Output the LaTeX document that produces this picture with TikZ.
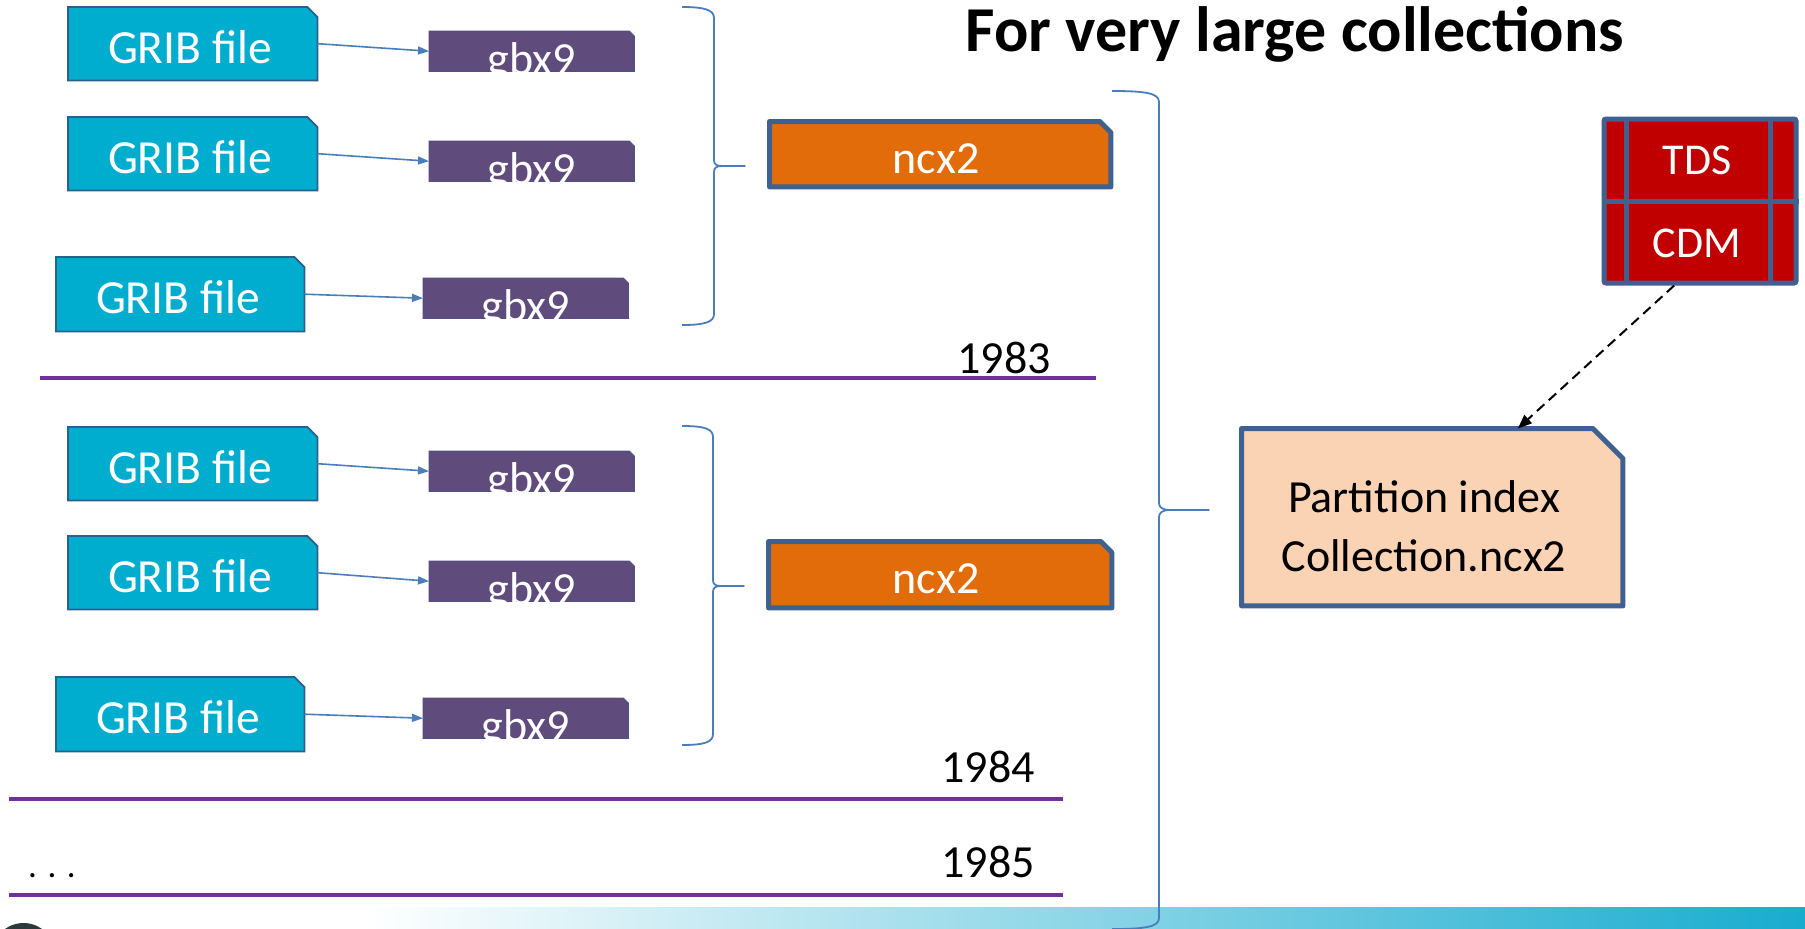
\documentclass[tikz,border=0pt]{standalone}
\usepackage{fontspec}
\setmainfont{Carlito}
\usetikzlibrary{arrows.meta,calc}
\definecolor{gribc}{HTML}{00ADCF}
\definecolor{gribb}{HTML}{2E5E8C}
\definecolor{gbxc}{HTML}{5F4B7C}
\definecolor{gbxb}{HTML}{4C5284}
\definecolor{ncxc}{HTML}{E36C0A}
\definecolor{boxb}{HTML}{3E6190}
\definecolor{partc}{HTML}{FAD3B4}
\definecolor{tdsc}{HTML}{C00000}
\definecolor{linec}{HTML}{7030A0}
\definecolor{bracec}{HTML}{4A7EBB}
\definecolor{bandc}{HTML}{18ACCF}
\definecolor{bandm}{HTML}{A8D6E8}
\definecolor{darkc}{HTML}{2B3A3C}
% #1 name, #2 path style, #3 x, #4 y, #5 w, #6 h, #7 chamfer
\newcommand\chbox[7]{%
  \node[inner sep=0pt, minimum width=#5pt, minimum height=#6pt, anchor=north west] (#1) at (#3,#4) {};
  \path[#2] (#1.south west) -- (#1.north west) -- ($(#1.north east)+(-#7,0)$)
    -- ($(#1.north east)+(0,#7)$) -- (#1.south east) -- cycle;
}
\begin{document}
\begin{tikzpicture}[x=1pt,y=-1pt,
  gribbox/.style={fill=gribc, draw=gribb, line width=1.8pt},
  gbxbox/.style={fill=gbxc, draw=gbxb, line width=0.8pt},
  thickbox/.style={draw=boxb, line width=5pt, line join=round},
  txt/.style={inner sep=0pt, anchor=base, font=\fontsize{46}{55}\selectfont},
  wtxt/.style={txt, text=white},
  conn/.style={draw=bracec, line width=1.6pt, -{Triangle[length=11pt,width=8pt]}},
  brace/.style={draw=bracec, line width=1.8pt, line join=round},
  sep/.style={draw=linec, line width=4pt}]
\useasboundingbox (0,0) rectangle (1805,929);
\clip (0,0) rectangle (1805,929);

% bottom band and logo fragment
\shade[left color=white, middle color=bandm, right color=bandc] (367,907) rectangle (1805,929);
\fill[darkc] (23.5,954.5) circle (31.5);

% title
\node[txt, font=\fontsize{64}{70}\selectfont\bfseries] (title) at (1295,51) {For very large collections};

% GRIB files
\chbox{g1}{gribbox}{68}{7}{249}{73}{10}
\chbox{g2}{gribbox}{68}{117}{249}{73}{10}
\chbox{g3}{gribbox}{56}{257}{248}{74}{10}
\chbox{g4}{gribbox}{68}{427}{249}{73}{10}
\chbox{g5}{gribbox}{68}{536}{249}{73}{10}
\chbox{g6}{gribbox}{56}{677}{248}{74}{10}
\foreach \n/\x/\y in {1/190/63, 2/190/173, 3/178/313, 4/190/483, 5/190/592, 6/178/733}
  \node[wtxt, font=\fontsize{47.5}{55}\selectfont] (gt\n) at (\x,\y) {GRIB file};

% gbx9 files
\chbox{b1}{gbxbox}{429}{31}{205}{40}{5}
\chbox{b2}{gbxbox}{429}{141}{205}{40}{5}
\chbox{b3}{gbxbox}{423}{278}{205}{40}{5}
\chbox{b4}{gbxbox}{429}{451}{205}{40}{5}
\chbox{b5}{gbxbox}{429}{561}{205}{40}{5}
\chbox{b6}{gbxbox}{423}{698}{205}{40}{5}
\foreach \n in {1,...,6}{
  \begin{scope}
    \clip (b\n.south west) rectangle (b\n.north east);
    \node[wtxt] (bt\n) at ($(b\n.south)+(0,3)$) {gbx9};
  \end{scope}
}

% connectors GRIB -> gbx9
\foreach \n in {1,...,6}
  \draw[conn] (g\n.east) -- (b\n.west);

% group braces
\draw[brace] (682,7) .. controls (705,7) and (714,10) .. (714,18) -- (714,160)
  .. controls (714,164) and (716,166) .. (722,166) -- (745,166) -- (722,166)
  .. controls (716,166) and (714,168) .. (714,172) -- (714,314)
  .. controls (714,322) and (705,325) .. (682,325);
\draw[brace] (682,426) .. controls (705,426) and (713,429) .. (713,437) -- (713,580)
  .. controls (713,584) and (715,586) .. (721,586) -- (744,586) -- (721,586)
  .. controls (715,586) and (713,588) .. (713,592) -- (713,734)
  .. controls (713,742) and (705,745) .. (682,745);

% ncx2 boxes
\chbox{n1}{thickbox, fill=ncxc}{769.5}{121.5}{341}{65}{11}
\chbox{n2}{thickbox, fill=ncxc}{768.5}{541.5}{343}{66}{11}
\node[wtxt] (nt1) at (936,173) {ncx2};
\node[wtxt] (nt2) at (936,593) {ncx2};

% year separators
\draw[sep] (40,378) -- (1096,378);
\draw[sep] (9,799) -- (1063,799);
\draw[sep] (9,895) -- (1063,895);
\node[txt, anchor=base east] (y1) at (1051,373) {1983};
\node[txt, anchor=base east] (y2) at (1035,782) {1984};
\node[txt, anchor=base east] (y3) at (1035,877) {1985};
\node[txt, anchor=base west, font=\fontsize{35}{40}\selectfont] (dots) at (28,877) {. . .};

% big brace
\draw[brace] (1112,91) .. controls (1145,91) and (1159,93) .. (1159,102) -- (1159,503)
  .. controls (1159,507) and (1162,510) .. (1170,510) -- (1209,510) -- (1170,510)
  .. controls (1162,510) and (1159,513) .. (1159,517) -- (1159,918)
  .. controls (1159,927) and (1145,929) .. (1112,929);

% partition index
\chbox{part}{thickbox, fill=partc}{1241.5}{428.5}{381}{177}{30}
\node[txt] (pt1) at (1424,512) {Partition index};
\node[txt] (pt2) at (1424,571) {Collection.ncx2};

% TDS / CDM
\node[draw=boxb, fill=tdsc, line width=5pt, rounded corners=2pt, inner sep=0pt,
  minimum width=192pt, minimum height=164pt, anchor=north west] (tds) at (1601.5,116.5) {};
\draw[draw=boxb, line width=5pt] (1626,116.5) -- (1626,280.5);
\draw[draw=boxb, line width=5pt] (1770,116.5) -- (1770,280.5);
\draw[draw=boxb, line width=5pt] (tds.west) -- (tds.east);
\node[wtxt, font=\fontsize{44}{50}\selectfont] (tt) at (1697,174) {TDS};
\node[wtxt, font=\fontsize{44}{50}\selectfont] (ct) at (1697,257) {CDM};

% dashed arrow
\draw[line width=2pt, dash pattern=on 10pt off 6pt, -{Triangle[length=14pt,width=11pt]}]
  (tds.253) -- (part.46);
\end{tikzpicture}
\end{document}
